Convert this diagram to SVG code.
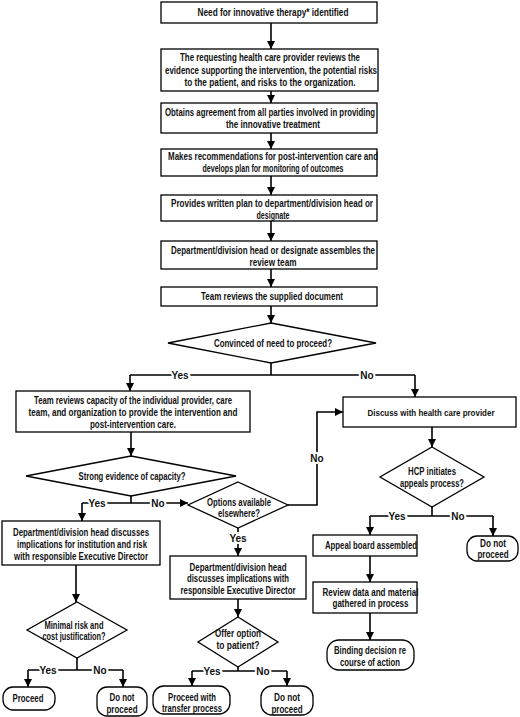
<svg xmlns="http://www.w3.org/2000/svg" width="520" height="717" viewBox="0 0 520 717">
<defs>
<marker id="ah" markerUnits="userSpaceOnUse" markerWidth="9" markerHeight="9" refX="8" refY="4" orient="auto">
<path d="M0,0 L8,4 L0,8 z" fill="#000"/>
</marker>
<style>
.b{fill:#fff;stroke:#000;stroke-width:1.3}
.t{font-family:"Liberation Sans",Arial,sans-serif;font-weight:bold;font-size:10px;fill:#111;text-anchor:middle}
.c{fill:none;stroke:#000;stroke-width:1.6}
.a{marker-end:url(#ah)}
.l{font-family:"Liberation Sans",Arial,sans-serif;font-weight:bold;font-size:10px;fill:#111;text-anchor:middle;stroke:#fff;stroke-width:4;paint-order:stroke}
</style>
</defs>
<rect width="520" height="717" fill="#fff"/>
<g id="connectors">
<path class="c a" d="M271,23 V49"/>
<path class="c a" d="M271,91 V103"/>
<path class="c a" d="M271,133 V149"/>
<path class="c a" d="M271,176 V195"/>
<path class="c a" d="M271,221 V241"/>
<path class="c a" d="M271,269 V287"/>
<path class="c a" d="M271,306 V323"/>
<path class="c" d="M271,363 V375 M130,375 H415"/>
<path class="c a" d="M130,375 V391"/>
<path class="c a" d="M415,375 V397"/>
<path class="c a" d="M131,432 V456"/>
<path class="c" d="M131,496 V503"/>
<path class="c a" d="M82,503 H188"/>
<path class="c a" d="M82,503 V521"/>
<path class="c a" d="M76,565 V602"/>
<path class="c" d="M77,658 V670 M28,670 H123"/>
<path class="c a" d="M28,670 V687"/>
<path class="c a" d="M123,670 V687"/>
<path class="c a" d="M288,505 H317 V412 H343"/>
<path class="c a" d="M238,528 V556"/>
<path class="c a" d="M238,599 V617"/>
<path class="c" d="M238,667 V671 M192,671 H287"/>
<path class="c a" d="M192,671 V686"/>
<path class="c a" d="M287,671 V686"/>
<path class="c a" d="M432,427 V447"/>
<path class="c" d="M432,507 V516 M370,516 H493"/>
<path class="c a" d="M370,516 V535"/>
<path class="c a" d="M493,516 V536"/>
<path class="c a" d="M370,556 V582"/>
<path class="c a" d="M370,613 V640"/>
<text class="l" x="180" y="378.5">Yes</text>
<text class="l" x="367" y="378.5">No</text>
<text class="l" x="97" y="506.5">Yes</text>
<text class="l" x="158" y="506.5">No</text>
<text class="l" x="317" y="461.5">No</text>
<text class="l" x="238" y="541.5">Yes</text>
<text class="l" x="48" y="673.5">Yes</text>
<text class="l" x="100" y="673.5">No</text>
<text class="l" x="212" y="674.5">Yes</text>
<text class="l" x="263" y="674.5">No</text>
<text class="l" x="397" y="519.5">Yes</text>
<text class="l" x="458" y="519.5">No</text>
</g>
<g id="n1">
<rect class="b" x="161" y="2" width="216" height="21"/>
<text class="t" x="273" y="16" textLength="151" lengthAdjust="spacingAndGlyphs">Need for innovative therapy* identified</text>
</g>
<g id="n2">
<rect class="b" x="161" y="49" width="217" height="42"/>
<text class="t" x="270" y="61" textLength="180" lengthAdjust="spacingAndGlyphs">The requesting health care provider reviews the</text>
<text class="t" x="271" y="73.5" textLength="212" lengthAdjust="spacingAndGlyphs">evidence supporting the intervention, the potential risks</text>
<text class="t" x="270" y="86" textLength="171" lengthAdjust="spacingAndGlyphs">to the patient, and risks to the organization.</text>
</g>
<g id="n3">
<rect class="b" x="161" y="103" width="216" height="30"/>
<text class="t" x="270" y="116" textLength="210" lengthAdjust="spacingAndGlyphs">Obtains agreement from all parties involved in providing</text>
<text class="t" x="273" y="128" textLength="94" lengthAdjust="spacingAndGlyphs">the innovative treatment</text>
</g>
<g id="n4">
<rect class="b" x="161" y="149" width="216" height="27"/>
<text class="t" x="273" y="160" textLength="210" lengthAdjust="spacingAndGlyphs">Makes recommendations for post-intervention care and</text>
<text class="t" x="273" y="172" textLength="141" lengthAdjust="spacingAndGlyphs">develops plan for monitoring of outcomes</text>
</g>
<g id="n5">
<rect class="b" x="161" y="195" width="216" height="26"/>
<text class="t" x="272" y="206.5" textLength="202" lengthAdjust="spacingAndGlyphs">Provides written plan to department/division head or</text>
<text class="t" x="273" y="218.5" textLength="33" lengthAdjust="spacingAndGlyphs">designate</text>
</g>
<g id="n6">
<rect class="b" x="161" y="241" width="216" height="28"/>
<text class="t" x="273" y="253.5" textLength="204" lengthAdjust="spacingAndGlyphs">Department/division head or designate assembles the</text>
<text class="t" x="273" y="265.5" textLength="47" lengthAdjust="spacingAndGlyphs">review team</text>
</g>
<g id="n7">
<rect class="b" x="161" y="287" width="216" height="19"/>
<text class="t" x="272" y="300" textLength="142" lengthAdjust="spacingAndGlyphs">Team reviews the supplied document</text>
</g>
<g id="d1">
<path class="b" d="M271,323 L376,343 L271,363 L168,343 z"/>
<text class="t" x="273" y="347" textLength="118" lengthAdjust="spacingAndGlyphs">Convinced of need to proceed?</text>
</g>
<g id="n8">
<rect class="b" x="16" y="391" width="234" height="41"/>
<text class="t" x="133" y="404" textLength="198" lengthAdjust="spacingAndGlyphs">Team reviews capacity of the individual provider, care</text>
<text class="t" x="133" y="416" textLength="209" lengthAdjust="spacingAndGlyphs">team, and organization to provide the intervention and</text>
<text class="t" x="133" y="428" textLength="86" lengthAdjust="spacingAndGlyphs">post-intervention care.</text>
</g>
<g id="d2">
<path class="b" d="M131,456 L236,476 L131,496 L26,476 z"/>
<text class="t" x="132" y="480" textLength="107" lengthAdjust="spacingAndGlyphs">Strong evidence of capacity?</text>
</g>
<g id="n9">
<rect class="b" x="2" y="521" width="158" height="44"/>
<text class="t" x="81" y="535.5" textLength="136" lengthAdjust="spacingAndGlyphs">Department/division head discusses</text>
<text class="t" x="82" y="547.5" textLength="130" lengthAdjust="spacingAndGlyphs">implications for institution and risk</text>
<text class="t" x="81" y="559.5" textLength="134" lengthAdjust="spacingAndGlyphs">with responsible Executive Director</text>
</g>
<g id="d3">
<path class="b" d="M77,602 L127,630 L77,658 L27,630 z"/>
<text class="t" x="74" y="628.5" textLength="59" lengthAdjust="spacingAndGlyphs">Minimal risk and</text>
<text class="t" x="74" y="639.5" textLength="63" lengthAdjust="spacingAndGlyphs">cost justification?</text>
</g>
<g id="t1">
<rect class="b" x="3" y="687" width="52" height="23" rx="10"/>
<text class="t" x="28" y="702" textLength="31" lengthAdjust="spacingAndGlyphs">Proceed</text>
</g>
<g id="t2">
<rect class="b" x="97" y="687" width="50" height="29" rx="10"/>
<text class="t" x="122" y="700.5" textLength="25" lengthAdjust="spacingAndGlyphs">Do not</text>
<text class="t" x="122" y="712.5" textLength="31" lengthAdjust="spacingAndGlyphs">proceed</text>
</g>
<g id="d4">
<path class="b" d="M238,482 L288,505 L238,528 L188,505 z"/>
<text class="t" x="239" y="505.5" textLength="64" lengthAdjust="spacingAndGlyphs">Options available</text>
<text class="t" x="239" y="516.5" textLength="42" lengthAdjust="spacingAndGlyphs">elsewhere?</text>
</g>
<g id="n10">
<rect class="b" x="170" y="556" width="136" height="43"/>
<text class="t" x="238" y="570.5" textLength="97" lengthAdjust="spacingAndGlyphs">Department/division head</text>
<text class="t" x="238" y="582" textLength="102" lengthAdjust="spacingAndGlyphs">discusses implications with</text>
<text class="t" x="238" y="593.5" textLength="115" lengthAdjust="spacingAndGlyphs">responsible Executive Director</text>
</g>
<g id="d5">
<path class="b" d="M238,617 L278,642 L238,667 L198,642 z"/>
<text class="t" x="238" y="636.5" textLength="46" lengthAdjust="spacingAndGlyphs">Offer option</text>
<text class="t" x="238" y="648.5" textLength="43" lengthAdjust="spacingAndGlyphs">to patient?</text>
</g>
<g id="t3">
<rect class="b" x="153" y="686" width="77" height="28" rx="11"/>
<text class="t" x="192" y="700.5" textLength="48" lengthAdjust="spacingAndGlyphs">Proceed with</text>
<text class="t" x="192" y="712" textLength="60" lengthAdjust="spacingAndGlyphs">transfer process</text>
</g>
<g id="t4">
<rect class="b" x="261" y="686" width="52" height="29" rx="11"/>
<text class="t" x="287" y="701" textLength="26" lengthAdjust="spacingAndGlyphs">Do not</text>
<text class="t" x="287" y="712.5" textLength="31" lengthAdjust="spacingAndGlyphs">proceed</text>
</g>
<g id="n11">
<rect class="b" x="343" y="397" width="173" height="30"/>
<text class="t" x="431" y="415.5" textLength="127" lengthAdjust="spacingAndGlyphs" style="font-size:9.5px">Discuss with health care provider</text>
</g>
<g id="d6">
<path class="b" d="M432,447 L484,477 L432,507 L380,477 z"/>
<text class="t" x="432" y="474.5" textLength="48" lengthAdjust="spacingAndGlyphs">HCP initiates</text>
<text class="t" x="432" y="486.5" textLength="64" lengthAdjust="spacingAndGlyphs">appeals process?</text>
</g>
<g id="t5">
<rect class="b" x="467" y="536" width="51" height="25" rx="10"/>
<text class="t" x="493" y="546.5" textLength="26" lengthAdjust="spacingAndGlyphs">Do not</text>
<text class="t" x="493" y="557.5" textLength="31" lengthAdjust="spacingAndGlyphs">proceed</text>
</g>
<g id="n12">
<rect class="b" x="313" y="535" width="104" height="21"/>
<text class="t" x="371" y="549" textLength="92" lengthAdjust="spacingAndGlyphs">Appeal board assembled</text>
</g>
<g id="n13">
<rect class="b" x="313" y="582" width="104" height="31"/>
<text class="t" x="370.5" y="595.5" textLength="96" lengthAdjust="spacingAndGlyphs">Review data and material</text>
<text class="t" x="370.5" y="607" textLength="76" lengthAdjust="spacingAndGlyphs">gathered in process</text>
</g>
<g id="t6">
<rect class="b" x="327" y="640" width="87" height="30" rx="12"/>
<text class="t" x="370" y="653.5" textLength="72" lengthAdjust="spacingAndGlyphs">Binding decision re</text>
<text class="t" x="370" y="665.5" textLength="60" lengthAdjust="spacingAndGlyphs">course of action</text>
</g>
</svg>
